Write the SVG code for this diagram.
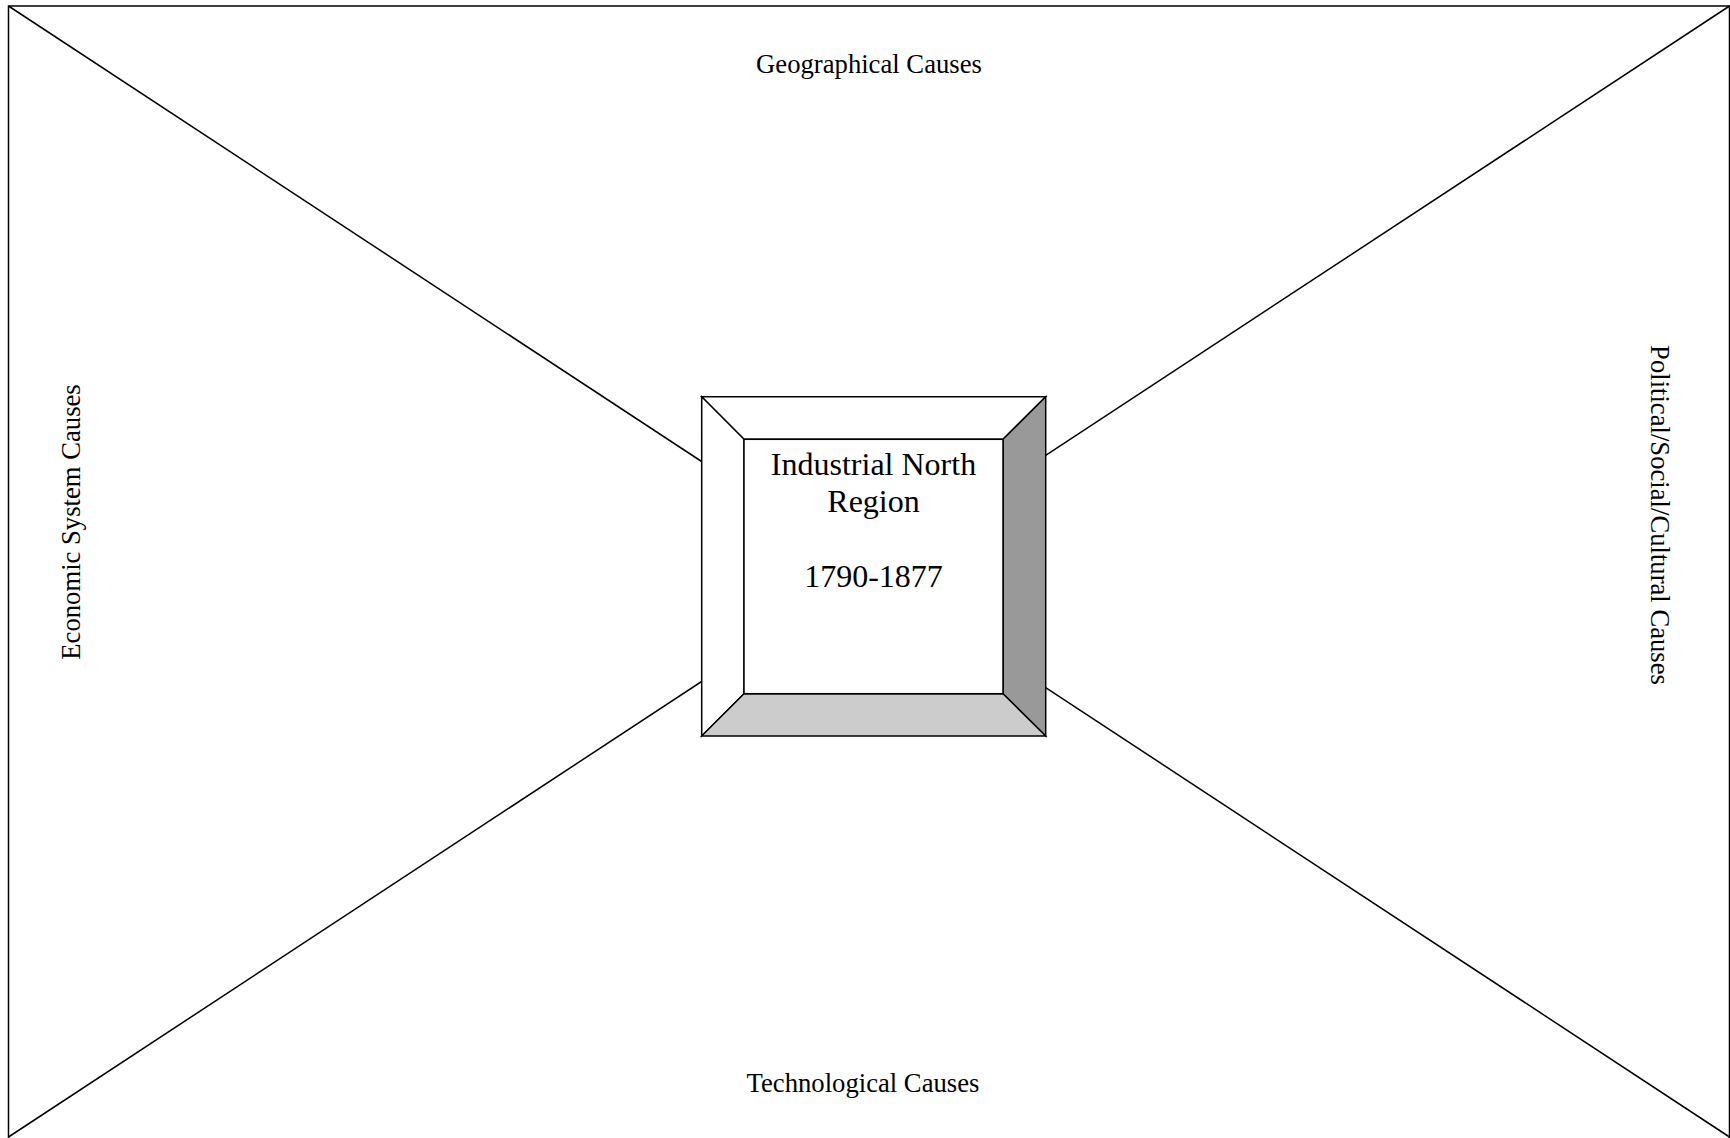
<svg xmlns="http://www.w3.org/2000/svg" width="1730" height="1138" viewBox="0 0 1730 1138">
<style>
.ln{stroke:#000;stroke-width:1.5;fill:none}
.bv{stroke:#000;stroke-width:1.5;stroke-linejoin:miter}
.t{font-family:"Liberation Serif","Times New Roman",serif;fill:#000;text-anchor:middle}
.lbl{font-size:26.67px}
.ctr{font-size:32px}
</style>
<rect width="1730" height="1138" fill="#fff"/>
<g id="frame">
<rect class="ln" x="8.5" y="6" width="1721" height="1140"/>
</g>
<g id="connectors">
<line class="ln" x1="8.5" y1="6" x2="1729.5" y2="1137"/>
<line class="ln" x1="1729.5" y1="6" x2="8.5" y2="1137"/>
</g>
<g id="center-node">
<polygon class="bv" fill="#fff" points="701.7,396.7 1045.7,396.7 1003,439.3 744,439.3"/>
<polygon class="bv" fill="#fff" points="701.7,396.7 744,439.3 744,693.7 701.7,736"/>
<polygon class="bv" fill="#999999" points="1045.7,396.7 1045.7,736 1003,693.7 1003,439.3"/>
<polygon class="bv" fill="#cccccc" points="701.7,736 744,693.7 1003,693.7 1045.7,736"/>
<rect class="bv" fill="#fff" x="744" y="439.3" width="259" height="254.4"/>
<text class="t ctr" x="873.5" y="475">Industrial North</text>
<text class="t ctr" x="873.5" y="512">Region</text>
<text class="t ctr" x="873.5" y="586.5">1790-1877</text>
</g>
<g id="geo">
<text class="t lbl" x="869" y="72.5">Geographical Causes</text>
</g>
<g id="tech">
<text class="t lbl" x="863" y="1092">Technological Causes</text>
</g>
<g id="econ">
<text class="t lbl" transform="translate(80,522) rotate(-90)">Economic System Causes</text>
</g>
<g id="pol">
<text class="t lbl" transform="translate(1651,515) rotate(90)">Political/Social/Cultural Causes</text>
</g>
</svg>
